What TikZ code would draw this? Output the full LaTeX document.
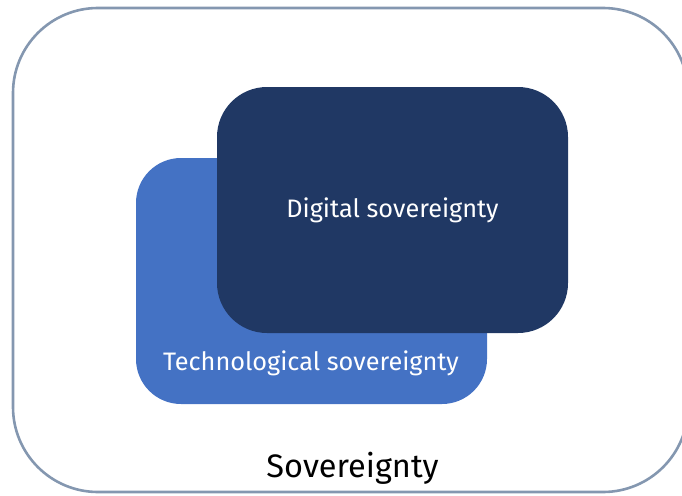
\documentclass[tikz,border=0pt]{standalone}
\usepackage{fontspec}
\setmainfont{Fira Sans}
\definecolor{frameblue}{HTML}{8497B0}
\definecolor{techblue}{HTML}{4472C4}
\definecolor{digiblue}{HTML}{203864}
\begin{document}
\begin{tikzpicture}[x=1pt,y=-1pt,
  panel/.style={minimum width=351pt,minimum height=246pt,inner sep=0pt,outer sep=0pt},
  label/.style={text=white,font=\fontsize{25.3}{30}\selectfont,inner sep=0pt,anchor=base}]
\useasboundingbox (0,0) rectangle (682,495);
\clip (0,0) rectangle (682,495);
% outer sovereignty frame
\node[draw=frameblue,line width=2.6pt,rounded corners=85pt,minimum width=675pt,minimum height=484pt,inner sep=0pt] (sov) at (350.5,250) {};
% technological sovereignty panel
\node[panel,fill=techblue,rounded corners=45pt] (tech) at (311.5,281) {};
% digital sovereignty panel
\node[panel,fill=digiblue,rounded corners=50pt] (digi) at (392.5,210) {};
\node[label] (digitxt) at (392.5,217) {Digital sovereignty};
\node[label] (techtxt) at (311,370) {Technological sovereignty};
\node[label,text=black,font=\fontsize{32.5}{38}\selectfont] (sovtxt) at (352.5,477) {Sovereignty};
\end{tikzpicture}
\end{document}
